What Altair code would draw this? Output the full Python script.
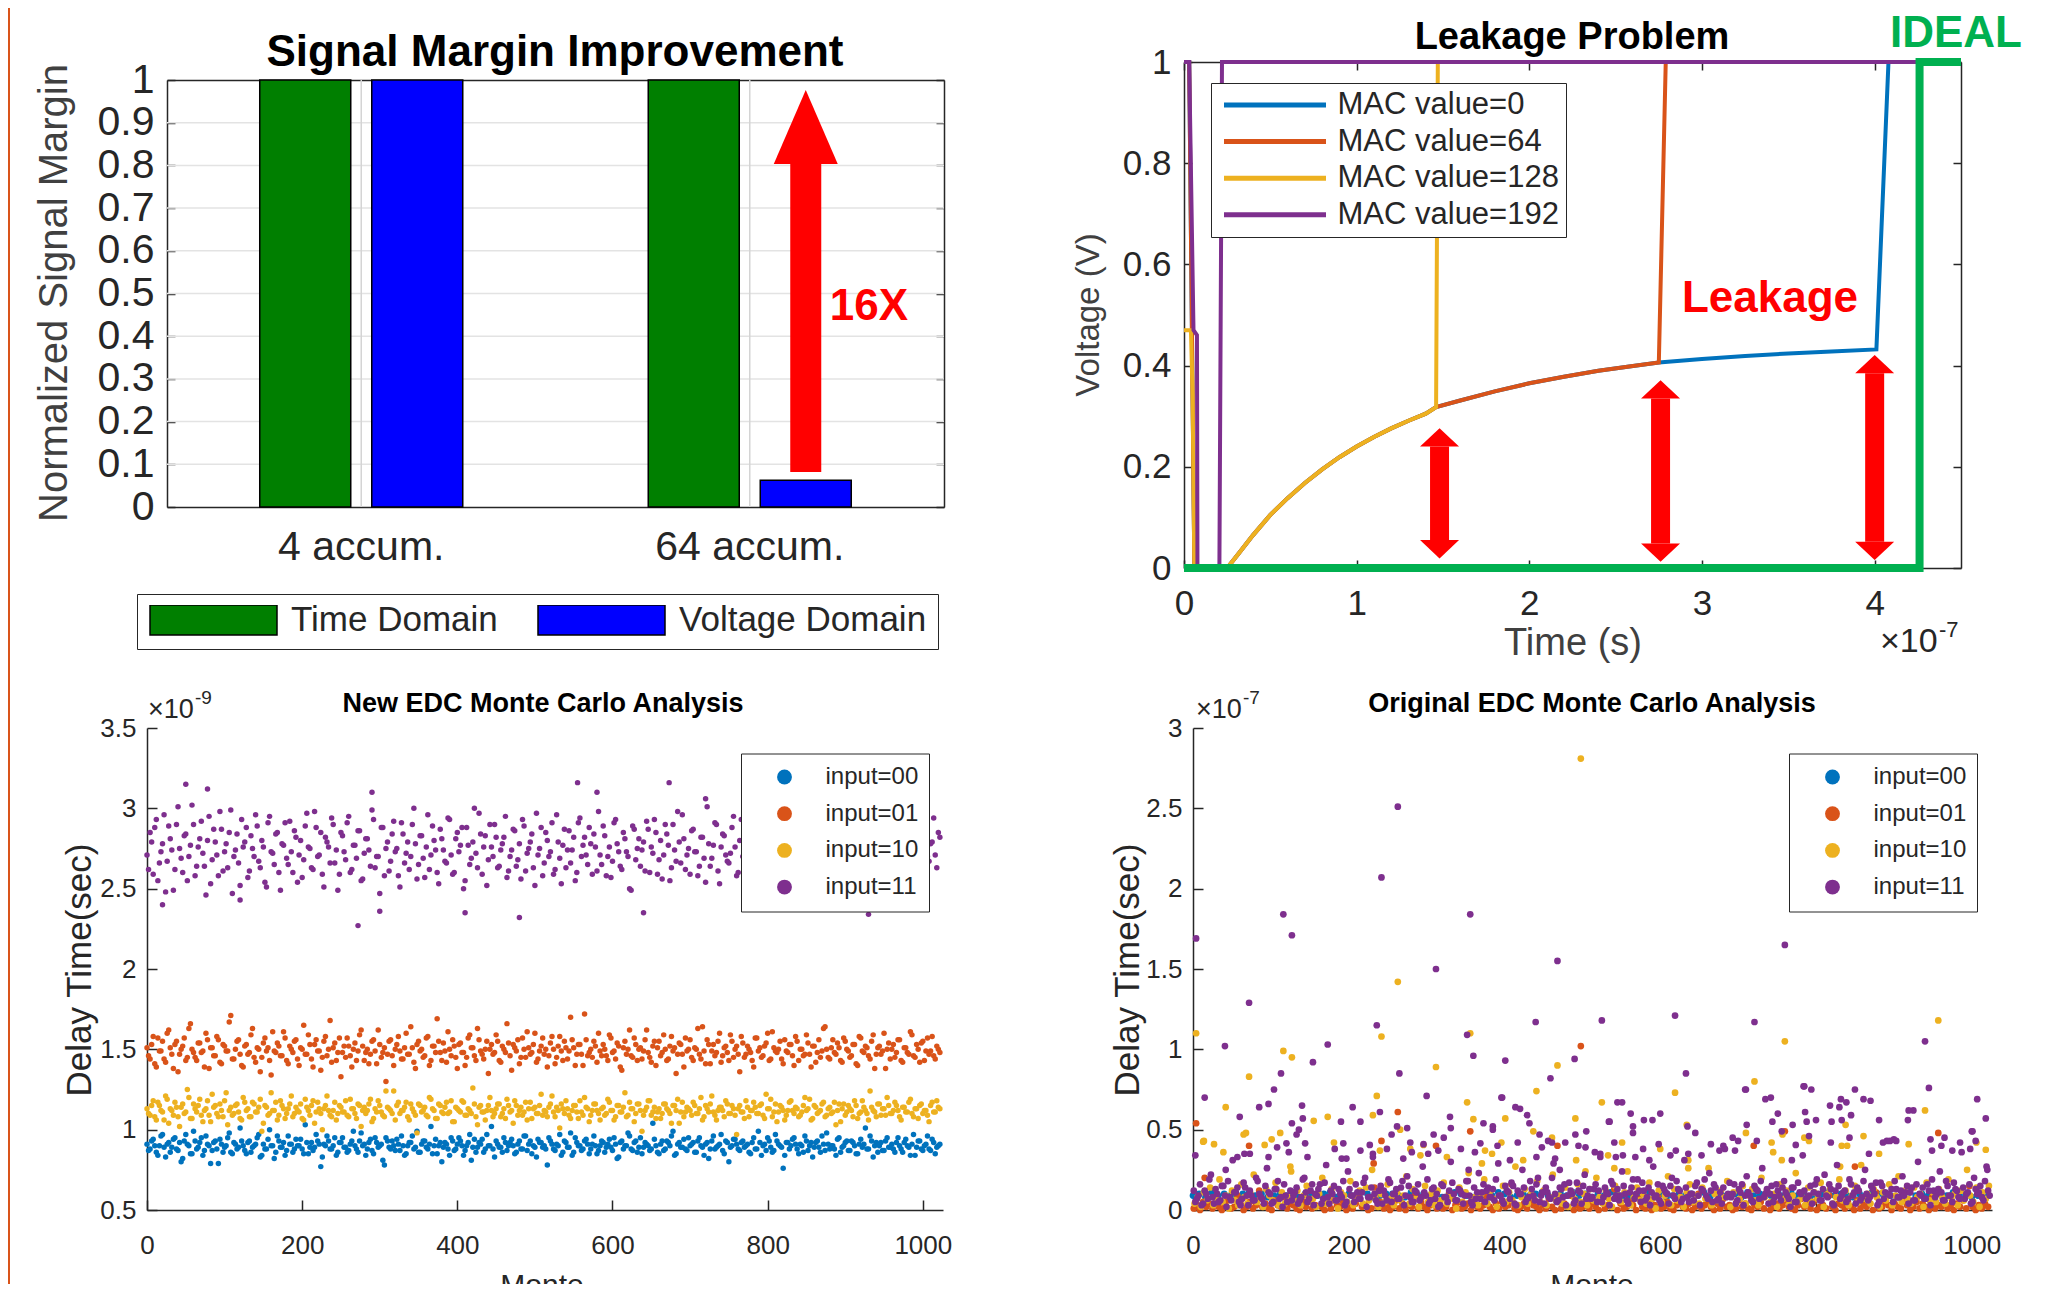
import altair as alt
import pandas as pd

W, H = 2050, 1276
TOP = "Liberation Sans, Arial, Helvetica, sans-serif"
INK = "#262626"
LGRAY = "#404040"
MAT = ["#0072BD", "#D95319", "#EDB120", "#7E2F8E"]

# ---------------------------------------------------------------- panel A data
sm_groups = ["4 accum.", "64 accum."]
sm_series = ["Time Domain", "Voltage Domain"]
sm_time = [1.0, 1.0]
sm_voltage = [1.0, 0.0625]
sm_colors = ["#007F00", "#0000FF"]
sm_yticks = [0, 0.1, 0.2, 0.3, 0.4, 0.5, 0.6, 0.7, 0.8, 0.9, 1.0]
sm_arrow = [0.082, 0.803, 0.977]          # shaft bottom, head base, tip
sm_arrow_label = "16X"
sm_arrow_label_y = 0.468

# ---------------------------------------------------------------- panel B data (time in 1e-7 s)
lk_names = ["MAC value=0", "MAC value=64", "MAC value=128", "MAC value=192"]
lk_curve_t = [0.25, 0.32, 0.40, 0.50, 0.60, 0.70, 0.80, 0.90, 1.00, 1.10, 1.20, 1.30, 1.40, 1.46]
lk_curve_v = [0.0, 0.03, 0.065, 0.105, 0.138, 0.168, 0.195, 0.219, 0.240, 0.259, 0.276, 0.291, 0.305, 0.318]
lk_mid_t = [1.60, 1.80, 2.00, 2.20, 2.40, 2.60, 2.75]
lk_mid_v = [0.331, 0.349, 0.365, 0.378, 0.390, 0.399, 0.406]
lk_late_t = [3.00, 3.25, 3.50, 3.75, 4.01]
lk_late_v = [0.413, 0.419, 0.424, 0.428, 0.432]
lk_pre_t = [0.0, 0.03, 0.06, 0.24]
lk_pre_v = [1.0, 1.0, 0.0, 0.0]
lk_mac0_t = lk_pre_t + lk_curve_t + lk_mid_t + lk_late_t + [4.08, 4.5]
lk_mac0_v = lk_pre_v + lk_curve_v + lk_mid_v + lk_late_v + [1.0, 1.0]
lk_mac64_t = lk_pre_t + lk_curve_t + lk_mid_t + [2.79, 4.5]
lk_mac64_v = lk_pre_v + lk_curve_v + lk_mid_v + [1.0, 1.0]
lk_mac128_t = [0.0, 0.04, 0.05, 0.06, 0.24] + lk_curve_t + [1.47, 4.5]
lk_mac128_v = [0.47, 0.47, 0.34, 0.0, 0.0] + lk_curve_v + [1.0, 1.0]
lk_mac192_t = [0.0, 0.03, 0.055, 0.075, 0.078, 0.205, 0.22, 4.5]
lk_mac192_v = [1.0, 1.0, 0.47, 0.46, 0.0, 0.0, 1.0, 1.0]
lk_ideal_t = [0.0, 4.26, 4.26, 4.5]
lk_ideal_v = [0.0, 0.0, 1.0, 1.0]
lk_arrow_t = [1.48, 2.76, 4.00]
lk_arrow_lo = [0.019, 0.0125, 0.016]
lk_arrow_hi = [0.276, 0.371, 0.421]
lk_head = 0.036
lk_note, lk_note_t, lk_note_v = "Leakage", 2.884, 0.532

# ---------------------------------------------------------------- panel C data (delay, 1e-11 s units)
mc_names = ["input=00", "input=01", "input=10", "input=11"]
new_in00 = [91,88,94,86,90,97,83,92,89,95,87,80,93,91,85,99,
88,92,84,96,90,87,93,79,91,89,95,86,92,88,101,90,
85,93,89,91,97,84,88,94,90,82,96,89,92,87,91,86,
94,90,88,103,85,92,89,93,77,91,96,88,90,84,92,95,
89,87,93,90,86,98,91,88,94,85,92,90,81,95,89,93,
87,91,96,84,90,92,88,99,86,93,89,91,85,94,90,80,
92,88,95,87,91,93,84,90,97,89,86,92,94,88,90,102,
83,91,89,95,87,92,90,86,93,88,96,91,85,89,94,92,
90,78,93,88,91,97,86,92,89,84,95,90,87,93,91,88,
96,85,90,92,89,94,87,91,83,93,90,98,88,92,86,95,
89,91,87,104,90,85,93,88,92,96,84,91,89,94,87,90,
92,86,95,89,91,82,93,88,90,97,85,92,89,94,91,87,
93,90,86,92,88,99,84,91,95,89,87,93,90,76,92,88,
94,91,85,90,96,87,92,89,93,86,91,98,88,90,84,95,
89,92,87,93,90,85,94,91,88,96,83,92,90,87,93,89,
91,86,95,88,92,90,84,97,89,93,87,91,88,94,85,90]
new_in00_b = [87,93,90,84,96,89,91,86,94,88,92,82,97,90,85,93,
89,95,87,91,79,92,88,94,86,90,98,85,91,89,93,87,
92,86,90,95,83,91,88,100,90,86,93,89,84,96,91,88,
90,94,85,92,89,87,97,91,83,90,93,88,95,86,92,89,
86,91,99,88,93,90,84,92,87,95,89,91,78,93,88,90,
94,87,90,85,92,96,89,86,91,93,88,102,90,85,92,89,
91,84,93,88,95,90,87,92,81,94,89,91,86,97,90,88,
93,89,86,92,90,94,85,91,88,96,87,93,90,83,92,89,
88,95,91,87,90,84,93,89,98,86,92,90,88,94,85,91,
90,87,93,86,91,89,95,82,92,88,90,96,87,93,89,85,
92,90,88,94,86,91,87,93,90,99,85,92,89,88,95,91,
86,93,90,84,92,88,96,89,91,87,93,80,90,94,88,92,
89,91,85,95,88,92,90,87,93,86,97,91,89,84,92,90,
95,88,91,86,93,90,83,92,89,96,87,91,90,88,94,86,
90,93,87,92,85,91,89,101,88,93,90,86,92,87,95,89,
88,92,90,86,94,89,91,84,93,88,90,96,87,92,89,91]
new_in01 = [151,144,158,139,149,155,142,162,147,153,136,150,157,145,166,148,
143,154,149,160,138,151,146,156,141,152,149,171,144,155,147,139,
153,148,163,142,150,145,157,151,134,149,154,146,161,143,152,148,
156,140,150,147,159,144,153,149,137,155,146,168,151,143,157,148,
145,152,139,154,149,162,143,150,147,156,141,153,148,130,155,146,
150,158,144,151,147,164,142,153,149,145,157,140,152,148,155,143,
149,161,146,152,138,154,148,145,159,151,143,156,147,150,135,153,
148,155,142,150,166,146,153,149,141,157,145,151,148,160,144,152,
147,139,154,150,145,158,143,151,149,156,140,153,147,172,146,150,
155,142,149,153,146,159,148,144,152,137,155,150,146,157,143,151,
149,162,145,152,140,155,148,150,144,158,151,147,153,139,149,156,
143,150,147,164,141,153,149,146,155,142,151,148,159,145,152,136,
154,147,150,143,157,149,145,152,160,144,151,148,155,141,149,153,
146,158,143,150,147,154,139,152,148,145,163,150,144,156,147,151,
142,155,149,146,153,140,157,148,151,144,159,147,152,149,138,154,
150,145,156,143,151,148,161,146,153,142,155,149,147,158,144,150]
new_in01_b = [146,153,141,157,149,144,160,151,138,155,147,152,143,163,150,145,
154,148,139,156,151,146,158,142,153,149,167,144,150,156,140,152,
147,159,145,151,136,154,149,143,161,148,152,146,157,141,150,155,
144,151,165,147,153,139,156,149,145,158,150,142,154,148,133,152,
157,146,150,143,159,152,148,141,155,149,162,145,151,147,156,140,
153,149,144,160,147,151,138,155,150,146,158,143,152,169,148,154,
142,150,156,145,153,148,140,157,151,146,163,149,144,155,150,147,
159,143,152,148,154,137,151,156,145,150,161,147,153,142,149,157,
150,146,158,141,152,149,155,144,170,151,147,153,140,156,148,145,
152,160,146,150,143,157,149,154,139,151,147,162,145,153,150,144,
156,148,142,155,151,146,159,143,152,149,135,154,147,157,150,145,
151,163,144,149,156,141,153,148,160,146,152,143,155,150,147,158,
145,152,148,139,157,151,146,154,143,161,149,150,144,156,148,153,
140,155,150,146,159,147,152,142,156,149,164,145,151,148,154,143,
157,150,145,153,141,158,149,152,146,155,138,151,147,160,150,144,
153,148,156,142,151,147,159,145,150,154,143,157,149,146,152,148]
new_in10 = [113,109,118,106,115,111,121,104,112,117,108,114,110,125,107,116,
111,119,105,113,109,122,115,108,112,118,103,114,110,116,107,120,
112,108,117,111,114,99,115,109,123,112,106,118,113,110,116,108,
114,111,107,119,112,115,104,117,110,113,121,109,112,106,115,111,
118,108,113,110,116,102,114,112,119,107,111,115,109,124,113,110,
106,117,112,114,108,116,111,98,115,112,109,120,113,107,116,111,
114,110,118,105,113,111,117,109,112,126,108,114,111,106,115,112,
110,116,108,113,119,111,104,115,112,109,117,113,107,114,110,122,
112,108,116,111,114,101,113,118,109,112,115,107,111,120,113,109,
116,112,106,114,110,117,112,108,115,111,123,109,113,105,116,112,
109,114,118,111,107,113,110,116,112,104,115,119,111,108,114,112,
117,110,113,106,115,111,121,109,112,114,108,116,110,113,97,115,
111,118,108,112,114,110,116,107,113,119,111,105,115,112,109,117,
112,114,108,111,120,113,106,115,110,112,117,109,114,111,103,116,
113,109,115,112,118,107,111,114,110,124,112,108,116,113,109,115,
110,117,112,106,114,111,119,108,113,115,110,112,105,117,111,114]
new_in10_b = [110,115,108,117,112,106,119,113,109,114,102,116,111,120,107,113,
115,109,112,118,105,114,110,116,108,123,112,109,115,111,106,117,
113,108,116,111,119,104,114,110,112,117,109,115,107,113,121,110,
112,116,106,114,109,118,111,113,100,115,112,108,117,110,114,111,
109,119,113,107,115,112,110,116,105,113,118,111,108,114,112,124,
115,110,112,117,106,113,109,116,111,114,108,119,112,107,115,110,
117,111,105,114,112,118,109,113,110,116,103,115,111,112,120,108,
113,116,110,107,115,112,118,109,114,111,106,117,113,110,115,109,
111,114,121,108,112,116,110,113,107,115,111,118,109,114,105,112,
116,110,113,109,119,112,106,115,111,114,108,117,113,110,116,99,
112,118,109,114,111,107,116,113,110,115,112,104,117,111,113,109,
115,110,120,108,113,116,111,106,114,112,118,110,115,109,113,111,
107,114,112,117,110,115,109,122,113,108,116,111,114,106,112,118,
110,113,109,115,112,119,107,114,111,116,108,113,110,117,112,105,
116,111,113,108,115,110,118,112,106,114,111,116,109,113,120,110,
112,115,108,114,111,117,110,113,107,116,112,109,115,111,118,113]
new_in11 = [271,285,259,293,266,278,248,289,274,262,301,269,283,255,277,290,
264,281,272,246,295,268,279,258,287,273,263,299,270,284,252,276,
288,261,275,296,267,280,254,291,273,265,285,249,277,269,292,260,
282,271,257,289,276,263,298,270,285,251,279,266,290,274,259,283,
268,295,262,277,286,255,272,281,264,293,270,247,288,275,261,284,
273,258,291,266,279,270,300,256,283,269,276,262,289,274,253,281,
267,294,271,260,285,277,250,288,265,279,272,297,259,283,268,276,
290,263,274,282,257,270,287,264,278,293,261,275,284,252,271,288,
266,280,273,259,296,269,277,263,286,274,255,291,270,282,265,278,
284,261,271,289,258,276,267,293,273,262,281,270,249,287,275,264,
279,292,260,272,285,268,256,290,277,263,274,298,266,281,271,259,
287,273,264,282,254,278,269,291,261,276,283,267,272,295,258,280,
270,286,262,277,289,265,274,251,284,271,279,260,293,268,276,285,
263,272,290,257,281,274,266,288,270,262,296,275,259,283,269,278,
292,264,277,271,286,255,280,268,291,273,262,284,276,250,287,270,
274,261,282,269,278,294,265,273,288,260,276,283,267,279,271,285]
new_in11_b = [262,279,288,255,273,296,267,281,249,290,275,260,284,270,302,258,
276,292,264,280,253,287,271,298,261,278,285,247,274,266,293,279,
257,283,270,289,263,276,251,295,272,284,260,278,291,265,273,286,
254,280,268,297,275,262,288,271,259,282,276,294,266,249,285,273,
291,260,277,269,286,256,281,274,299,263,270,288,258,279,267,292,
275,251,284,272,262,290,278,265,283,257,296,271,280,260,287,274,
266,293,259,281,273,288,255,277,269,300,263,284,276,252,290,270,
282,264,278,295,261,274,286,268,256,289,272,279,263,297,275,258,
285,270,291,262,279,253,287,274,266,282,260,294,277,271,288,259,
276,298,265,283,270,257,291,278,264,285,273,250,289,268,281,274,
261,287,276,293,259,280,271,284,255,290,267,279,296,262,275,286,
273,258,282,269,301,264,277,290,253,284,271,266,288,276,260,293,
279,267,285,256,274,292,263,281,270,287,258,276,298,265,283,272,
289,261,275,282,254,291,268,279,273,286,262,295,270,257,284,277,
264,290,271,278,260,285,273,299,266,281,256,288,275,269,293,262,
280,272,287,259,276,283,265,291,274,261,286,270,278,294,263,282]
new_out11_x = [50, 78, 272, 290, 555, 580, 673, 20, 120, 300, 410, 480, 640, 720, 860, 930]
new_out11_y = [3.15, 3.12, 2.27, 3.10, 3.16, 3.10, 3.16, 2.40, 2.43, 2.36, 2.35, 2.32, 2.35, 3.06, 2.38, 2.34]

# ---------------------------------------------------------------- panel D data (delay, 1e-9 s units)
orig_in00 = [9,10,8,11,9,10,9,8,10,11,9,10,8,9,10,9,11,8,10,9,9,10,11,8,9,10,9,11,10,8,9,10,
10,9,8,11,9,10,9,10,8,9,11,10,9,8,10,9,9,11,10,8,9,10,9,10,11,9,8,10,9,11,9,10,
8,10,9,11,10,9,8,9,10,11,9,10,8,9,10,9,10,9,11,8,10,9,9,10,8,11,9,10,9,8,10,9,
11,9,10,8,9,10,11,9,10,9,8,10,9,11,10,9,9,8,10,11,9,10,9,8,10,9,11,10,9,8,9,10]
orig_in01 = [1,3,0,5,2,4,1,7,2,0,3,6,1,2,9,4,
0,2,5,1,3,12,2,4,1,0,6,3,2,8,1,4,
3,1,0,5,2,7,1,3,10,2,0,4,1,6,3,2,
5,0,2,1,4,8,2,3,0,1,14,2,5,1,3,0,
2,6,1,4,0,3,2,9,1,5,2,0,3,7,1,4,
1,2,11,0,3,5,1,2,4,0,6,2,1,3,8,2,
0,4,1,5,2,3,16,1,0,2,4,1,6,3,2,0,
3,1,7,2,0,5,1,4,2,9,0,3,1,2,5,1,
4,2,0,6,1,3,2,13,0,4,1,2,5,3,0,7,
2,1,4,0,3,8,1,2,5,1,0,3,6,2,1,4,
0,2,10,1,3,5,2,0,4,1,7,2,3,0,1,6,
2,4,1,0,3,2,5,1,12,0,2,4,1,3,6,2,
1,0,3,7,2,4,1,5,0,2,3,1,9,2,0,4,
3,1,5,2,0,6,1,3,2,4,0,11,1,2,5,3,
0,4,2,1,7,3,0,2,5,1,4,2,0,8,1,3,
2,5,1,3,0,4,2,6,1,15,2,0,3,1,4,2]
orig_in10 = [4,8,2,11,6,14,3,7,19,5,9,1,12,6,3,16,
8,4,10,22,5,7,2,13,9,6,17,3,11,4,8,24,
6,12,3,9,15,5,7,2,10,20,4,8,13,6,1,11,
9,5,18,3,7,12,4,14,6,25,8,2,10,5,16,7,
3,11,6,9,21,4,13,7,2,8,15,5,10,3,12,6,
17,4,9,7,1,14,5,11,23,6,8,3,10,19,4,12,
7,2,9,15,5,11,6,27,3,8,13,4,10,7,18,5,
12,3,8,22,6,9,4,14,2,11,7,16,5,10,3,13,
6,20,8,4,12,7,2,15,9,5,11,24,3,8,14,6,
10,4,17,7,1,12,5,9,21,3,13,6,8,2,11,16,
5,9,4,14,7,26,3,10,6,12,8,18,2,11,5,7,
15,4,9,13,6,3,20,8,11,5,10,2,16,7,12,4,
9,23,6,8,3,14,5,11,7,17,2,10,13,4,8,19,
6,12,3,9,15,5,28,7,10,4,13,8,2,11,6,16,
3,9,21,5,12,7,4,14,8,10,2,17,6,11,5,13,
8,4,19,7,10,3,12,6,25,9,5,14,2,11,7,15]
orig_in11 = [5,9,3,12,7,22,4,10,6,15,2,8,31,11,5,7,
14,3,9,6,18,8,4,26,10,5,13,7,2,9,36,6,
11,4,8,20,5,12,3,9,16,7,28,4,10,6,13,8,
3,24,9,5,11,7,17,2,8,33,6,12,4,9,19,5,
10,7,14,3,21,8,5,11,6,27,9,4,13,7,2,16,
8,5,30,10,6,12,4,18,9,3,7,23,11,5,14,8,
6,40,9,4,12,7,15,3,10,25,5,8,13,6,20,9,
4,11,7,29,5,14,8,3,17,10,6,12,4,22,9,7,
13,5,35,8,11,3,16,9,6,24,10,4,14,7,19,5,
12,8,3,27,9,6,15,11,4,20,7,13,5,31,8,10,
6,17,3,12,9,23,5,14,7,4,38,10,8,16,6,11,
3,21,9,5,13,7,26,10,4,15,8,12,6,18,9,2,
14,5,11,34,7,9,4,16,10,6,22,8,13,3,28,7,
11,5,19,9,4,12,8,25,6,15,10,3,17,7,43,9,
5,13,8,21,11,4,14,6,30,9,7,16,3,12,10,24,
6,18,9,5,13,8,36,7,11,4,20,10,15,6,27,9]
orig_in11_b = [12,7,16,4,10,19,8,13,5,15,9,18,6,11,14,3,
17,9,12,6,20,10,7,15,11,4,13,18,8,16,5,12,
9,14,6,19,11,7,16,10,13,4,17,8,12,15,6,10,
18,5,13,9,16,7,11,20,8,14,10,4,15,12,6,17,
10,13,7,18,9,15,5,12,16,8,11,19,6,14,10,3,
15,8,12,17,6,13,10,9,18,5,14,11,7,16,12,8,
13,19,9,6,15,11,17,4,12,10,14,7,18,9,16,5,
11,14,8,20,10,6,13,16,9,12,4,17,11,15,7,13,
8,16,12,5,14,10,18,7,13,9,15,6,11,19,10,12,
17,6,14,11,8,16,4,13,10,15,9,18,12,7,14,5,
10,15,9,13,19,7,12,16,6,11,14,8,17,10,4,13,
16,9,11,6,15,12,18,8,13,10,5,16,9,14,11,7,
14,5,17,10,12,8,15,11,19,6,13,9,16,4,12,15,
9,12,7,16,11,14,6,18,10,8,13,17,5,15,11,10,
13,18,8,12,9,15,11,6,16,10,14,7,12,19,8,13,
11,6,15,9,17,12,7,14,10,16,5,13,11,8,18,12]
# scattered points above the dense band (Monte index, delay in 1e-7 s)
orig_out01_x = [498, 4, 263, 356, 760, 957, 468, 242, 15, 72, 312, 232, 720, 850]
orig_out01_y = [1.02, 0.54, 0.61, 0.49, 0.49, 0.48, 0.40, 0.43, 0.20, 0.40, 0.40, 0.29, 0.40, 0.27]
orig_out10_x = [498, 263, 4, 116, 127, 72, 242, 356, 312, 468, 760, 957, 721, 619, 525, 236, 352, 14, 42, 68, 940, 1018, 838, 757, 401, 173,
                13, 27, 39, 65, 92, 101, 112, 125, 155, 181, 231, 240, 266, 279, 292, 296, 326, 360, 371, 375, 384, 396, 424, 437, 441, 461, 491, 492, 504,
                634, 551, 600, 636, 710, 743, 745, 756, 785, 791, 833, 840, 861, 881, 919, 1006, 533, 541, 636, 831]
orig_out10_y = [2.81, 1.42, 1.10, 0.99, 0.95, 0.83, 1.08, 1.10, 0.89, 0.90, 1.05, 1.18, 0.80, 0.73, 0.67, 0.71, 0.67, 0.43, 0.64, 0.48, 0.62, 0.375, 0.53, 0.47, 0.57, 0.58,
                0.425, 0.41, 0.36, 0.47, 0.405, 0.44, 0.48, 0.27, 0.555, 0.42, 0.59, 0.37, 0.50, 0.38, 0.34, 0.405, 0.33, 0.565, 0.29, 0.37, 0.35, 0.42, 0.31, 0.49, 0.74, 0.45, 0.57, 0.31, 0.24,
                0.53, 0.42, 0.38, 0.31, 0.48, 0.42, 0.36, 0.31, 0.45, 0.43, 0.40, 0.40, 0.46, 0.35, 0.41, 0.42, 0.34, 0.26, 0.26, 0.27]
orig_out11_x = [4, 116, 127, 72, 41, 242, 263, 356, 312, 468, 760, 173, 154, 236, 352, 360, 401, 265, 440, 490, 525, 619, 633, 721, 709, 784, 794, 940, 945, 1007, 1018, 113, 104, 15, 97, 397, 459, 190,
                60, 85, 140, 205, 215, 300, 330, 385, 420, 445, 505, 545, 565, 590, 645, 665, 735, 770, 800, 830, 850, 870, 900, 925, 965, 985, 1000,
                3, 42, 57, 66, 73, 97, 108, 120, 127, 133, 136, 141, 147, 144, 182, 191, 193, 197, 215, 227, 231, 240, 249, 255, 262, 270, 275, 279, 281, 296,
                302, 309, 315, 322, 331, 344, 354, 362, 369, 373, 385, 392, 396, 407, 414, 417, 429, 432, 441, 448, 456, 461, 465, 471, 478, 491, 495, 504, 516, 523, 534,
                535, 551, 562, 565, 541, 543, 552, 568, 578, 579, 586, 598, 600, 613, 620, 635, 636, 653, 676, 681, 693, 696, 700, 710, 711, 724, 742, 744, 751, 756,
                769, 774, 785, 786, 788, 791, 818, 820, 819, 832, 833, 839, 843, 845, 861, 868, 881, 886, 895, 903, 919, 918, 947, 949, 961, 975, 998, 1001, 1005, 1020]
orig_out11_y = [1.69, 1.84, 1.71, 1.29, 1.02, 2.07, 2.51, 1.84, 1.50, 1.55, 1.65, 1.03, 0.92, 1.15, 1.09, 0.96, 0.93, 0.85, 1.17, 0.94, 1.18, 1.21, 0.85, 1.17, 0.75, 0.77, 0.75, 1.05, 0.76, 0.69, 0.57, 0.85, 0.75, 0.70, 0.66, 0.70, 0.82, 0.55,
                0.58, 0.64, 0.65, 0.64, 0.55, 0.71, 0.58, 0.52, 0.63, 0.47, 0.49, 0.67, 0.52, 0.56, 0.48, 0.41, 0.69, 0.53, 0.56, 0.64, 0.75, 0.68, 0.44, 0.62, 0.45, 0.42, 0.49,
                0.34, 0.25, 0.33, 0.35, 0.35, 0.33, 0.39, 0.415, 0.54, 0.47, 0.50, 0.57, 0.33, 0.415, 0.38, 0.32, 0.415, 0.32, 0.37, 0.405, 0.35, 0.61, 0.38, 0.47, 0.52, 0.32, 0.51, 0.42, 0.36, 0.41,
                0.35, 0.47, 0.37, 0.45, 0.51, 0.38, 0.25, 0.36, 0.415, 0.54, 0.50, 0.29, 0.70, 0.31, 0.64, 0.42, 0.59, 0.54, 0.33, 0.39, 0.43, 0.42, 0.32, 0.25, 0.42, 0.47, 0.40, 0.39, 0.36, 0.33, 0.55,
                0.55, 0.67, 0.60, 0.48, 0.42, 0.33, 0.34, 0.33, 0.38, 0.56, 0.31, 0.41, 0.60, 0.34, 0.37, 0.52, 0.35, 0.34, 0.37, 0.40, 0.45, 0.37, 0.43, 0.75, 0.53, 0.43, 0.70, 0.55, 0.60, 0.49,
                0.31, 0.405, 0.77, 0.61, 0.55, 0.46, 0.65, 0.55, 0.42, 0.69, 0.56, 0.67, 0.45, 0.59, 0.69, 0.35, 0.56, 0.42, 0.43, 0.43, 0.62, 0.56, 0.44, 0.37, 0.40, 0.37, 0.38, 0.49, 0.43, 0.25]


# ---------------------------------------------------------------- helpers
def axis(orient, offset, labels=False, ticks=False, domain=False, values=None, fmt=None,
         size=28, font=TOP, pad=10, tick=8):
    kw = dict(orient=orient, offset=offset, title=None, grid=False, labels=labels, ticks=ticks,
              domain=domain, domainColor=INK, domainWidth=1.5, tickColor=INK, tickWidth=1.5,
              tickSize=tick, labelFont=font, labelFontSize=size, labelColor=INK, labelLimit=500,
              labelPadding=pad, labelFlush=False, labelOverlap=False, labelAngle=0)
    if values is not None:
        kw["values"] = values
    if fmt is not None:
        kw["format"] = fmt
    return alt.Axis(**kw)


def text(t, x, y, size, font=TOP, weight="normal", color=INK, angle=0, align="center", baseline="middle"):
    return alt.Chart(pd.DataFrame({"t": [t]})).mark_text(
        font=font, fontSize=size, fontWeight=weight, color=color, angle=angle,
        align=align, baseline=baseline).encode(text="t:N", x=alt.value(x), y=alt.value(y))


# ---------------------------------------------------------------- panel A
tl_x = alt.Scale(domain=sm_groups, range=[159, 936], paddingInner=0, paddingOuter=0)
tl_xo = alt.Scale(domain=sm_series, paddingInner=0.1875, paddingOuter=0.828)
tl_y = alt.Scale(domain=[0, 1], range=[499, 72], nice=False, zero=False)
sm_df = pd.DataFrame({"grp": sm_groups + sm_groups,
                      "series": [sm_series[0]] * 2 + [sm_series[1]] * 2,
                      "val": sm_time + sm_voltage})
tl_legend = alt.Legend(orient="none", legendX=129, legendY=586, direction="horizontal", title=None,
                       symbolType="M-1,-0.236H1V0.236H-1Z", symbolSize=16129, clipHeight=30,
                       symbolStrokeColor="black", symbolStrokeWidth=1.5, symbolOpacity=1, symbolOffset=1,
                       labelFont=TOP, labelFontSize=35, labelColor=INK, labelOffset=13, labelLimit=500,
                       columnPadding=38, padding=11, strokeColor=INK, fillColor="white")
tl_hgrid = alt.Chart(pd.DataFrame({"val": sm_yticks[1:-1]})).mark_rule(color="#e3e3e3", strokeWidth=1.5).encode(
    y=alt.Y("val:Q", scale=tl_y, axis=None), x=alt.value(159), x2=alt.value(936))
tl_vgrid = alt.Chart(pd.DataFrame({"grp": sm_groups, "lo": [0, 0], "hi": [1, 1]})).mark_rule(
    color="#d4d4d4", strokeWidth=1.5).encode(
    x=alt.X("grp:N", scale=tl_x, axis=None), y=alt.Y("lo:Q", scale=tl_y, axis=None), y2="hi:Q")
tl_bars = alt.Chart(sm_df).mark_bar(stroke="black", strokeWidth=1.5).encode(
    x=alt.X("grp:N", scale=tl_x, sort=sm_groups,
            axis=axis("bottom", 499 - H, labels=True, domain=True, size=41, pad=20)),
    xOffset=alt.XOffset("series:N", scale=tl_xo, sort=sm_series),
    y=alt.Y("val:Q", scale=tl_y,
            axis=axis("left", -159, labels=True, domain=True, values=sm_yticks, fmt="~g", size=41, pad=13)),
    fill=alt.Fill("series:N", scale=alt.Scale(domain=sm_series, range=sm_colors), legend=tl_legend))
tl_axA = alt.Chart(sm_df).mark_point(opacity=0).encode(
    x=alt.X("grp:N", scale=tl_x, axis=axis("bottom", 72 - H, domain=True)),
    y=alt.Y("val:Q", scale=tl_y, axis=axis("right", 159 - W, ticks=True, values=sm_yticks)))
tl_axB = alt.Chart(sm_df).mark_point(opacity=0).encode(
    y=alt.Y("val:Q", scale=tl_y, axis=axis("left", -936, ticks=True, domain=True, values=sm_yticks)))
arr = pd.DataFrame({"grp": ["64 accum."], "series": ["Voltage Domain"],
                    "lo": [sm_arrow[0]], "hi": [sm_arrow[1]], "tip": [sm_arrow[2]],
                    "lab": [sm_arrow_label_y], "txt": [sm_arrow_label]})
arr["head"] = (arr["hi"] + arr["tip"]) / 2
tl_shaft = alt.Chart(arr).mark_rule(color="#FF0000", strokeWidth=31, strokeCap="butt").encode(
    x=alt.X("grp:N", scale=tl_x, axis=None), xOffset=alt.XOffset("series:N", scale=tl_xo),
    y=alt.Y("lo:Q", scale=tl_y, axis=None), y2="hi:Q")
tl_head = alt.Chart(arr).mark_point(shape="M-1,1.156L0,-1.156L1,1.156Z", size=4096, filled=True,
                                    color="#FF0000", opacity=1, strokeWidth=0).encode(
    x=alt.X("grp:N", scale=tl_x, axis=None), xOffset=alt.XOffset("series:N", scale=tl_xo),
    y=alt.Y("head:Q", scale=tl_y, axis=None))
tl_16x = alt.Chart(arr).mark_text(font=TOP, fontSize=44, fontWeight="bold", color="#FF0000",
                                  align="left", baseline="middle", dx=24).encode(
    x=alt.X("grp:N", scale=tl_x, axis=None), xOffset=alt.XOffset("series:N", scale=tl_xo),
    y=alt.Y("lab:Q", scale=tl_y, axis=None), text="txt:N")
panel_a = alt.layer(tl_hgrid, tl_vgrid, tl_bars, tl_axA, tl_axB, tl_shaft, tl_head, tl_16x).resolve_axis(
    x="independent", y="independent")

# ---------------------------------------------------------------- panel B
lk_x = alt.Scale(domain=[0, 4.5], range=[1176, 1953], nice=False, zero=False)
lk_y = alt.Scale(domain=[0, 1], range=[560, 54], nice=False, zero=False)
rows = []
for name, ts, vs in zip(lk_names, [lk_mac0_t, lk_mac64_t, lk_mac128_t, lk_mac192_t],
                        [lk_mac0_v, lk_mac64_v, lk_mac128_v, lk_mac192_v]):
    for i, (t, v) in enumerate(zip(ts, vs)):
        rows.append({"series": name, "t": t, "v": v, "idx": i})
lk_df = pd.DataFrame(rows)
lk_legend = alt.Legend(orient="none", legendX=1203, legendY=75, title=None, symbolType="stroke",
                       symbolSize=10404, symbolStrokeWidth=5, clipHeight=30, rowPadding=5.6, symbolOffset=3.5,
                       labelFont=TOP, labelFontSize=31, labelColor=INK, labelOffset=9, labelLimit=500,
                       padding=7, strokeColor=INK, fillColor="white")
lk_ticks_x = [0, 1, 2, 3, 4]
lk_ticks_y = [0, 0.2, 0.4, 0.6, 0.8, 1.0]


def lk_line(name, main):
    return alt.Chart(lk_df).transform_filter(alt.datum.series == name).mark_line(strokeWidth=4).encode(
        x=alt.X("t:Q", scale=lk_x,
                axis=axis("bottom", 560 - H, labels=True, domain=True, values=lk_ticks_x, size=35, pad=18) if main else None),
        y=alt.Y("v:Q", scale=lk_y,
                axis=axis("left", -1176, labels=True, domain=True, values=lk_ticks_y, fmt="~g", size=35, pad=13) if main else None),
        stroke=alt.Stroke("series:N", scale=alt.Scale(domain=lk_names, range=MAT), legend=lk_legend),
        order=alt.Order("idx:Q"))


ideal_df = pd.DataFrame({"t": lk_ideal_t, "v": lk_ideal_v, "idx": list(range(len(lk_ideal_t)))})
lk_ideal = alt.Chart(ideal_df).mark_line(color="#00B050", strokeWidth=8, strokeJoin="miter", strokeCap="butt").encode(
    x=alt.X("t:Q", scale=lk_x, axis=None), y=alt.Y("v:Q", scale=lk_y, axis=None), order=alt.Order("idx:Q"))
ad = pd.DataFrame({"t": lk_arrow_t, "lo": lk_arrow_lo, "hi": lk_arrow_hi})
ad["s0"] = ad["lo"] + lk_head
ad["s1"] = ad["hi"] - lk_head
ad["h0"] = ad["lo"] + lk_head / 2
ad["h1"] = ad["hi"] - lk_head / 2
lk_shaft = alt.Chart(ad).mark_rule(color="#FF0000", strokeWidth=19, strokeCap="butt").encode(
    x=alt.X("t:Q", scale=lk_x, axis=None), y=alt.Y("s0:Q", scale=lk_y, axis=None), y2="s1:Q")
lk_up = alt.Chart(ad).mark_point(shape="M-1,0.47L0,-0.47L1,0.47Z", size=1521, filled=True,
                                 color="#FF0000", opacity=1, strokeWidth=0).encode(
    x=alt.X("t:Q", scale=lk_x, axis=None), y=alt.Y("h1:Q", scale=lk_y, axis=None))
lk_down = alt.Chart(ad).mark_point(shape="M-1,-0.47L0,0.47L1,-0.47Z", size=1521, filled=True,
                                   color="#FF0000", opacity=1, strokeWidth=0).encode(
    x=alt.X("t:Q", scale=lk_x, axis=None), y=alt.Y("h0:Q", scale=lk_y, axis=None))
lk_text = alt.Chart(pd.DataFrame({"t": [lk_note_t], "v": [lk_note_v], "s": [lk_note]})).mark_text(
    font=TOP, fontSize=44, fontWeight="bold", color="#FF0000", align="left", baseline="middle").encode(
    x=alt.X("t:Q", scale=lk_x, axis=None), y=alt.Y("v:Q", scale=lk_y, axis=None), text="s:N")
lk_axA = alt.Chart(ideal_df).mark_point(opacity=0).encode(
    x=alt.X("t:Q", scale=lk_x, axis=axis("top", -560, ticks=True, values=lk_ticks_x)),
    y=alt.Y("v:Q", scale=lk_y, axis=axis("right", 1176 - W, ticks=True, values=lk_ticks_y)))
lk_axB = alt.Chart(ideal_df).mark_point(opacity=0).encode(
    x=alt.X("t:Q", scale=lk_x, axis=axis("bottom", 54 - H, ticks=True, domain=True, values=lk_ticks_x)),
    y=alt.Y("v:Q", scale=lk_y, axis=axis("left", -1953, ticks=True, domain=True, values=lk_ticks_y)))
panel_b = alt.layer(lk_axA, lk_axB, lk_line(lk_names[0], True), lk_line(lk_names[1], False),
                    lk_line(lk_names[2], False), lk_line(lk_names[3], False),
                    lk_ideal, lk_shaft, lk_up, lk_down, lk_text).resolve_axis(x="independent", y="independent")

# ---------------------------------------------------------------- panels C & D
mc_ticks_x = [0, 200, 400, 600, 800, 1000]


def mc_legend(lx):
    return alt.Legend(orient="none", legendX=lx, legendY=745.5, title=None, symbolType="circle",
                      symbolSize=220, clipHeight=27, rowPadding=9.7, symbolOffset=21.5,
                      labelFont=TOP, labelFontSize=24, labelColor=INK, labelOffset=29, labelLimit=400,
                      padding=10, strokeColor=INK, fillColor="white", symbolOpacity=1)


def mc_panel(df, xr, ydom, yticks, legend_x, size):
    xs = alt.Scale(domain=[0, 1026], range=xr, nice=False, zero=False)
    ys = alt.Scale(domain=ydom, range=[1202, 720], nice=False, zero=False)
    pts = alt.Chart(df).mark_circle(size=size, opacity=1).encode(
        x=alt.X("monte:Q", scale=xs,
                axis=axis("bottom", 1202 - H, labels=True, domain=True, values=mc_ticks_x, fmt="d",
                          size=26, pad=22)),
        y=alt.Y("delay:Q", scale=ys,
                axis=axis("left", -xr[0], labels=True, domain=True, values=yticks, fmt="~g",
                          size=26, pad=11)),
        color=alt.Color("input:N", scale=alt.Scale(domain=mc_names, range=MAT), legend=mc_legend(legend_x)))
    ticks = alt.Chart(df.head(1)).mark_point(opacity=0).encode(
        x=alt.X("monte:Q", scale=xs, axis=axis("top", -1202, ticks=True, values=mc_ticks_x, tick=10)),
        y=alt.Y("delay:Q", scale=ys, axis=axis("right", xr[0] - W, ticks=True, values=yticks, tick=10)))
    return alt.layer(pts, ticks).resolve_axis(x="independent", y="independent")


rows = []
for k, (name, vals, vals_b) in enumerate(zip(mc_names, [new_in00, new_in01, new_in10, new_in11],
                                             [new_in00_b, new_in01_b, new_in10_b, new_in11_b])):
    for i, v in enumerate(vals):
        rows.append({"monte": 4 * i, "delay": v / 100, "input": name})
    for i, v in enumerate(vals_b):
        rows.append({"monte": 4 * i + 2, "delay": v / 100, "input": name})
    if k == 3:
        rows += [{"monte": a, "delay": b, "input": name} for a, b in zip(new_out11_x, new_out11_y)]
new_df = pd.DataFrame(rows)

rows = []
for k, (name, vals, step) in enumerate(zip(mc_names, [orig_in00, orig_in01, orig_in10, orig_in11], [8, 4, 4, 4])):
    for i, v in enumerate(vals):
        rows.append({"monte": step * i + k, "delay": v / 100, "input": name})
    if k == 1:
        rows += [{"monte": a, "delay": b, "input": name} for a, b in zip(orig_out01_x, orig_out01_y)]
    if k == 2:
        rows += [{"monte": a, "delay": b, "input": name} for a, b in zip(orig_out10_x, orig_out10_y)]
    if k == 3:
        rows += [{"monte": 4 * i + 1, "delay": v / 100, "input": name} for i, v in enumerate(orig_in11_b)]
        rows += [{"monte": a, "delay": b, "input": name} for a, b in zip(orig_out11_x, orig_out11_y)]
orig_df = pd.DataFrame(rows)

panel_c = mc_panel(new_df, [139, 935], [0.5, 3.5], [0.5, 1, 1.5, 2, 2.5, 3, 3.5], 733, 30)
panel_d = mc_panel(orig_df, [1185, 1984], [0, 3], [0, 0.5, 1, 1.5, 2, 2.5, 3], 1781, 45)

# ---------------------------------------------------------------- texts & frame decoration
border = alt.Chart(pd.DataFrame({"a": [0]})).mark_rect(color="#D9541A").encode(
    x=alt.value(0), x2=alt.value(2), y=alt.value(0), y2=alt.value(H))
texts = [
    text("Signal Margin Improvement", 547, 45, 44, weight="bold", color="black"),
    text("Normalized Signal Margin", 47, 285, 40, color=LGRAY, angle=270),
    text("Leakage Problem", 1564, 30, 38, weight="bold", color="black"),
    text("IDEAL", 1948, 26, 44, weight="bold", color="#00B050"),
    text("Voltage (V)", 1081, 307, 33, color=LGRAY, angle=270),
    text("Time (s)", 1565, 636, 38, color=LGRAY),
    text("×10", 1872, 634, 34, align="left"),
    text("-7", 1931, 622, 22, align="left"),
    text("New EDC Monte Carlo Analysis", 535, 696, 27, weight="bold", color="black"),
    text("×10", 140, 702, 27, align="left"),
    text("-9", 187, 690, 19, align="left"),
    text("Delay Time(sec)", 72, 962, 35, angle=270),
    text("Monte", 534, 1263, 30, baseline="top"),
    text("Original EDC Monte Carlo Analysis", 1584, 696, 27, weight="bold", color="black"),
    text("×10", 1188, 702, 27, align="left"),
    text("-7", 1235, 690, 19, align="left"),
    text("Delay Time(sec)", 1120, 962, 35, angle=270),
    text("Monte", 1584, 1263, 30, baseline="top"),
]

chart = alt.layer(border, panel_a, panel_b, panel_c, panel_d, *texts).resolve_scale(
    x="independent", y="independent", color="independent"
).properties(
    width=W, height=H, padding=0, autosize=alt.AutoSizeParams(type="none"), background="white"
).configure_view(stroke=None)

chart.save("out.html", embed_options={"renderer": "svg", "actions": False})
